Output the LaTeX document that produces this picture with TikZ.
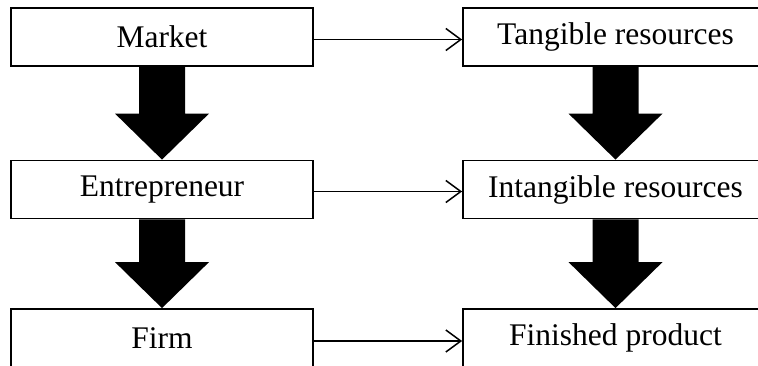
\documentclass[tikz,border=0pt]{standalone}
\usepackage{fontspec}
\setmainfont{Liberation Serif}
\usetikzlibrary{arrows.meta,calc}
\tikzset{
  box/.style={draw=black, line width=1.8pt, fill=white, inner sep=0pt,
    minimum height=58pt, font=\fontsize{31.5}{36}\selectfont},
  lbox/.style={box, minimum width=302pt},
  rbox/.style={box, minimum width=305pt},
  hline/.style={draw=black, line width=1.5pt, -{Straight Barb[length=15pt,width=22pt,line width=1.5pt]}},
}
\newcommand\fatarrow[2]{%
  \fill[black] let \p1=(#1.south), \p2=(#2.north) in
    (\x1-23pt,\y1) -- (\x1+23pt,\y1) -- (\x1+23pt,\y2+46pt) -- (\x1+47pt,\y2+46pt)
    -- (\x1,\y2) -- (\x1-47pt,\y2+46pt) -- (\x1-23pt,\y2+46pt) -- cycle;}
\begin{document}
\begin{tikzpicture}[x=1pt,y=1pt]
\useasboundingbox (0,0) rectangle (758,-365);
\clip (0,0) rectangle (758,-365);
\node[lbox] (m) at (162,-37) {Market};
\node[rbox] (t) at (615.5,-37) {Tangible resources};
\node[lbox] (e) at (162,-189.5) {Entrepreneur};
\node[rbox] (i) at (615.5,-189.5) {Intangible resources};
\node[lbox] (f) at (162,-338) {Firm};
\node[rbox] (p) at (615.5,-338) {Finished product};
\fatarrow{m}{e}
\fatarrow{e}{f}
\fatarrow{t}{i}
\fatarrow{i}{p}
\draw[hline] ([yshift=-2.5pt]m.east) -- ([yshift=-2.5pt]t.west);
\draw[hline] ([yshift=-2pt]e.east) -- ([yshift=-2pt]i.west);
\draw[hline] ([yshift=-3pt]f.east) -- ([yshift=-3pt]p.west);
\end{tikzpicture}
\end{document}
